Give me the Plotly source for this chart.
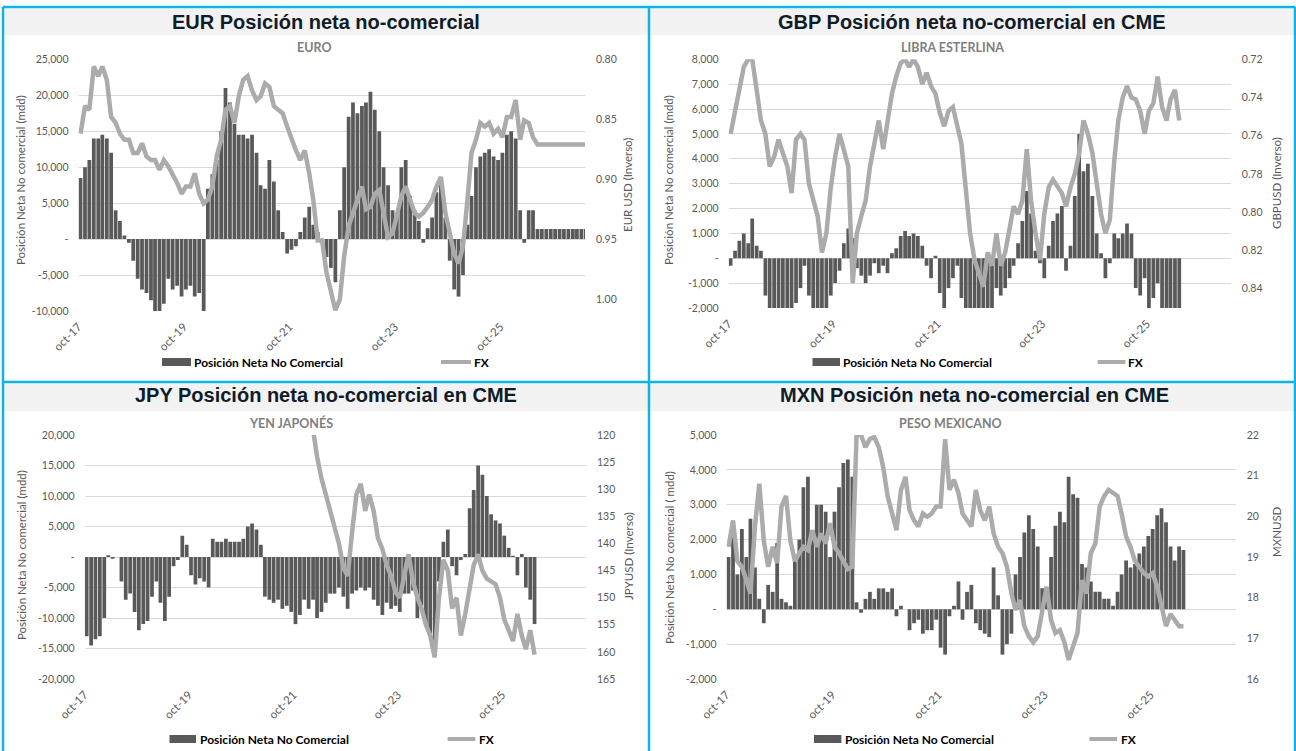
import plotly.graph_objects as go

W, H = 1296, 751

# ---------------- DATA (monthly, from oct-2017) ----------------
EUR_POS = [8500, 10000, 11000, 14000, 14000, 14500, 14000, 12000, 4000, 2500,
           500, -500, -3000, -5500, -7000, -7500, -8500, -10000, -10500, -9000,
           -5500, -7000, -6500, -8000, -7000, -6500, -8000, -7500, -10500, 7000,
           9000, 11000, 15000, 21000, 19000, 16000, 14500, 14500, 14000, 14500,
           12000, 7500, 7000, 11000, 8000, 4000, 1000, -2000, -1500, -1000,
           1000, 3000, 4500, 2000, 1000, -500, -2500, -4000, -6000, 4000,
           10000, 17000, 19000, 17500, 18500, 19000, 20500, 18000, 15000, 10000,
           7500, 4000, 3500, 10000, 11000, 6000, 4000, 2500, -500, 1500,
           3000, 6500, 8000, 3000, -3000, -7000, -8000, -5000, 2000, 6000,
           10000, 11500, 12000, 12500, 11500, 11000, 12000, 14500, 15000, 14000,
           4000, -500, 4000, 4000,
           1400, 1400, 1400, 1400, 1400, 1400, 1400, 1400, 1400, 1400, 1400, 1400]
EUR_FX = [0.862, 0.839, 0.842, 0.806, 0.814, 0.806, 0.817, 0.848, 0.853, 0.862,
          0.867, 0.867, 0.878, 0.878, 0.870, 0.881, 0.884, 0.884, 0.892, 0.884,
          0.889, 0.895, 0.903, 0.912, 0.906, 0.906, 0.895, 0.912, 0.920, 0.917,
          0.906, 0.881, 0.867, 0.842, 0.839, 0.853, 0.831, 0.817, 0.814, 0.826,
          0.834, 0.831, 0.820, 0.823, 0.839, 0.842, 0.845, 0.856, 0.867, 0.876,
          0.884, 0.876, 0.895, 0.917, 0.951, 0.951, 0.978, 0.992, 1.009, 1.000,
          0.964, 0.939, 0.928, 0.917, 0.906, 0.925, 0.923, 0.912, 0.909, 0.928,
          0.948, 0.945, 0.928, 0.914, 0.906, 0.917, 0.928, 0.931, 0.928, 0.923,
          0.917, 0.906, 0.898, 0.928, 0.945, 0.962, 0.970, 0.956, 0.917, 0.878,
          0.867, 0.853, 0.856, 0.853, 0.862, 0.858, 0.865, 0.848, 0.848, 0.834,
          0.867, 0.851, 0.853, 0.865,
          0.871, 0.871, 0.871, 0.871, 0.871, 0.871, 0.871, 0.871, 0.871, 0.871, 0.871, 0.871]

GBP_POS = [-300, 300, 700, 1000, 600, 1600, 500, 300, -1500, -2500,
           -2200, -2200, -2200, -2200, -2000, -1800, -1200, -300, -1500, -2200,
           -2200, -2200, -2000, -1500, -1000, -500, 600, 1200, 800, -400,
           -700, -1000, -700, -200, -600, -300, -600, 200, 400, 900,
           1100, 900, 1000, 900, 500, -300, -800, 100, -1400, -2100,
           -1200, -800, -300, -1600, -2200, -2200, -2200, -2200, -2200, -2200,
           -2000, -1200, -1500, -1200, -800, -300, 600, 1500, 2700, 1800,
           300, -200, -800, 500, 1500, 1800, 2100, -500, 500, 2500,
           5000, 3500, 3800, 2500, 1000, 200, -800, -200, 1000, 800,
           1000, 1400, 1000, -1200, -1500, -800, -2200, -1600, -1000, -2200,
           -2200, -2200, -2200, -2200]
GBP_FX = [0.759, 0.747, 0.734, 0.724, 0.720, 0.720, 0.736, 0.752, 0.759, 0.776,
          0.771, 0.762, 0.769, 0.776, 0.790, 0.762, 0.759, 0.762, 0.785, 0.794,
          0.802, 0.821, 0.811, 0.787, 0.771, 0.759, 0.767, 0.776, 0.837, 0.811,
          0.802, 0.794, 0.776, 0.764, 0.752, 0.767, 0.754, 0.738, 0.729, 0.722,
          0.720, 0.724, 0.720, 0.724, 0.733, 0.727, 0.734, 0.738, 0.748, 0.755,
          0.747, 0.745, 0.755, 0.764, 0.788, 0.811, 0.825, 0.832, 0.839, 0.821,
          0.828, 0.811, 0.828, 0.821, 0.808, 0.797, 0.801, 0.794, 0.767, 0.794,
          0.811, 0.825, 0.801, 0.787, 0.783, 0.787, 0.790, 0.797, 0.787, 0.780,
          0.769, 0.752, 0.759, 0.769, 0.787, 0.801, 0.811, 0.804, 0.773, 0.752,
          0.740, 0.734, 0.740, 0.741, 0.747, 0.759, 0.747, 0.743, 0.729, 0.745,
          0.752, 0.741, 0.736, 0.752]

JPY_POS = [-13000, -14500, -13500, -13000, -10000, 300, -300, 0, -4000, -7000,
           -6000, -9000, -12000, -11000, -10500, -6500, -4000, -7500, -10500, -6500,
           -1500, -500, 3500, 2000, -3000, -4500, -3500, -4000, -5000, 3000,
           2500, 2500, 3000, 2500, 2500, 2500, 3000, 5000, 5500, 4500,
           2000, -6500, -7000, -7500, -7000, -8500, -8000, -9000, -11000, -9500,
           -7000, -8500, -7000, -10000, -9000, -7500, -6000, -6000, -5000, -6500,
           -8500, -6000, -5500, -5000, -5500, -5000, -7000, -8000, -9500, -7500,
           -8500, -8000, -9000, -6000, -6000, -5500, -10000, -8000, -11000, -12500,
           -14000, -4000, 2500, 4500, -1500, -3000, -500, 500, 8000, 11000,
           15000, 13500, 10000, 7000, 6000, 5500, 3500, 1500, 200, -3000,
           500, -5000, -7000, -11000]
JPY_FX = [None, None, None, None, None, None, None, None, None, None,
          None, None, None, None, None, None, None, None, None, None,
          None, None, None, None, None, None, None, None, None, None,
          None, None, None, None, None, None, None, None, None, None,
          None, None, None, None, None, None, None, None, None, None,
          None, None,
          119.0, 124.0, 128.0, 131.0, 134.5, 137.0, 140.0, 144.5, 146.0, 138.0,
          131.0, 129.0, 134.0, 131.0, 134.0, 139.0, 141.0, 144.0, 146.0, 149.0,
          150.0, 146.0, 142.0, 147.0, 150.0, 152.0, 155.0, 157.0, 161.0, 150.0,
          143.0, 145.0, 152.0, 150.0, 157.0, 153.0, 148.0, 144.0, 142.0, 145.0,
          146.5, 147.0, 147.5, 150.0, 154.0, 156.0, 158.0, 153.0, 157.0, 159.5,
          156.0, 160.5]

MXN_POS = [1500, 2200, 1000, 2300, 1500, 2600, 1200, 300, -400, 700,
           500, 1900, 300, 200, 100, 1500, 2000, 3500, 3800, 2000,
           3000, 3000, 2800, 1500, 2800, 3500, 4200, 4300, 3800, 200,
           -100, 300, 500, 300, 600, 600, 500, 600, -200, 100,
           0, -600, -400, -300, -700, -600, -600, -300, -1100, -1300,
           -200, 100, 800, -300, 500, 700, -400, -600, -700, -800,
           1200, 400, -1300, -1000, -700, 1000, 1500, 2200, 2700, 2300,
           1800, 600, 300, 1500, 2400, 2800, 2500, 3800, 3300, 3200,
           1300, 1200, 800, 500, 500, 300, 300, 100, 500, 1000,
           1400, 1200, 1300, 1600, 1800, 2100, 2300, 2700, 2900, 2500,
           1800, 1400, 1800, 1700]
MXN_FX = [19.25, 19.9, 18.9, 18.76, 18.43, 18.1, 19.75, 20.8, 19.4, 18.76,
          19.25, 18.85, 20.24, 20.5, 19.4, 18.9, 19.1, 19.25, 19.17, 19.66,
          19.25, 19.58, 19.33, 19.83, 19.25, 19.1, 18.9, 18.7, 18.76, 22.0,
          22.0, 21.7, 21.9, 21.95, 21.7, 21.2, 20.5, 20.07, 19.66, 20.65,
          20.97, 20.15, 19.9, 19.75, 20.07, 19.99, 20.07, 20.24, 20.24, 21.9,
          20.65, 20.9, 20.57, 20.07, 19.9, 19.75, 20.65, 20.15, 19.9, 20.24,
          19.58, 19.25, 19.1, 18.76, 18.1, 17.7, 17.94, 17.3, 17.05, 16.9,
          17.05, 17.6, 18.27, 17.45, 17.13, 17.2, 16.9, 16.47, 16.8, 17.13,
          18.43, 18.1, 19.1, 19.33, 20.24, 20.5, 20.65, 20.57, 20.5, 20.07,
          19.5, 19.25, 18.9, 18.76, 18.6, 18.52, 18.6, 18.27, 17.78, 17.3,
          17.6, 17.45, 17.3, 17.3]

X_TICKS = ["2017-10-01", "2019-10-01", "2021-10-01", "2023-10-01", "2025-10-01"]
X_TICK_LABELS = ["oct-17", "oct-19", "oct-21", "oct-23", "oct-25"]

EUR_LT = [25000, 20000, 15000, 10000, 5000, 0, -5000, -10000]
EUR_LT_TXT = ["25,000", "20,000", "15,000", "10,000", "5,000", "-", "-5,000", "-10,000"]
EUR_RT = [0.80, 0.85, 0.90, 0.95, 1.00]
EUR_RT_TXT = ["0.80", "0.85", "0.90", "0.95", "1.00"]

GBP_LT = [8000, 7000, 6000, 5000, 4000, 3000, 2000, 1000, 0, -1000, -2000]
GBP_LT_TXT = ["8,000", "7,000", "6,000", "5,000", "4,000", "3,000", "2,000", "1,000", "-", "-1,000", "-2,000"]
GBP_RT = [0.72, 0.74, 0.76, 0.78, 0.80, 0.82, 0.84]
GBP_RT_TXT = ["0.72", "0.74", "0.76", "0.78", "0.80", "0.82", "0.84"]

JPY_LT = [20000, 15000, 10000, 5000, 0, -5000, -10000, -15000, -20000]
JPY_LT_TXT = ["20,000", "15,000", "10,000", "5,000", "-", "-5,000", "-10,000", "-15,000", "-20,000"]
JPY_RT = [120, 125, 130, 135, 140, 145, 150, 155, 160, 165]
JPY_RT_TXT = ["120", "125", "130", "135", "140", "145", "150", "155", "160", "165"]

MXN_LT = [5000, 4000, 3000, 2000, 1000, 0, -1000, -2000]
MXN_LT_TXT = ["5,000", "4,000", "3,000", "2,000", "1,000", "-", "-1,000", "-2,000"]
MXN_RT = [22, 21, 20, 19, 18, 17, 16]
MXN_RT_TXT = ["22", "21", "20", "19", "18", "17", "16"]


def month_dates(n):
    out = []
    y, m = 2017, 10
    for _ in range(n):
        out.append(f"{y}-{m:02d}-15")
        m += 1
        if m > 12:
            m = 1
            y += 1
    return out


# ---------------- STYLE ----------------
FONT = "Lato, 'Open Sans', sans-serif"
TITLE_FONT = "'Liberation Sans', Arial, sans-serif"
BAR_C = "#595959"
LINE_C = "#ABABAB"
GRID_C = "#D9D9D9"
TXT_C = "#595959"
SUB_C = "#7F7F7F"
BORDER_C = "#0DB4E4"
X_RANGE = ["2017-10-01", "2027-05-10"]
BAR_W = 26 * 24 * 3600 * 1000


def fx(x):
    return x / W


def fy(y):
    return 1 - y / H


panels = [
    dict(title="EUR Posición neta no-comercial", sub="EURO", pos=EUR_POS, fxv=EUR_FX,
         box=(78.5, 585, 59.3, 311), lt=EUR_LT, ltt=EUR_LT_TXT, lr=[-10000, 25000],
         rt=EUR_RT, rtt=EUR_RT_TXT, rr=[1.0097, 0.80],
         ltitle="Posición Neta No comercial (mdd)", rtitle="EUR USD (Inverso)",
         tcx=326, tcy=22, scx=314, scy=48, ltx=21, lty=180, rtx=628, rty=185,
         bar=(162, 191), bt=192, fxl=(441, 471), ft=472, legy=362, tb=(8.5, 35), px0=4, px1=648),
    dict(title="GBP Posición neta no-comercial en CME", sub="LIBRA ESTERLINA", pos=GBP_POS, fxv=GBP_FX,
         box=(728.6, 1230.8, 59.3, 308), lt=GBP_LT, ltt=GBP_LT_TXT, lr=[-2000, 8000],
         rt=GBP_RT, rtt=GBP_RT_TXT, rr=[0.8501, 0.72],
         ltitle="Posición Neta No comercial (mdd)", rtitle="GBPUSD (Inverso)",
         tcx=972, tcy=22, scx=952, scy=48, ltx=669, lty=180, rtx=1276, rty=183,
         bar=(812.5, 840), bt=841, fxl=(1097.7, 1125.4), ft=1126, legy=362, tb=(8.5, 35), px0=650, px1=1294),
    dict(title="JPY Posición neta no-comercial en CME", sub="YEN JAPONÉS", pos=JPY_POS, fxv=JPY_FX,
         box=(84.7, 586, 435, 679), lt=JPY_LT, ltt=JPY_LT_TXT, lr=[-20000, 20000],
         rt=JPY_RT, rtt=JPY_RT_TXT, rr=[165, 120],
         ltitle="Posición Neta No comercial (mdd)", rtitle="JPYUSD (Inverso)",
         tcx=326, tcy=395, scx=291, scy=423, ltx=21, lty=555, rtx=628, rty=556,
         bar=(169.5, 196), bt=198, fxl=(447.6, 475.3), ft=477, legy=739, tb=(383.5, 411), px0=4, px1=648),
    dict(title="MXN Posición neta no-comercial en CME", sub="PESO MEXICANO", pos=MXN_POS, fxv=MXN_FX,
         box=(726.5, 1235.7, 435, 679), lt=MXN_LT, ltt=MXN_LT_TXT, lr=[-2000, 5000],
         rt=MXN_RT, rtt=MXN_RT_TXT, rr=[16, 22],
         ltitle="Posición Neta No comercial ( mdd)", rtitle="MXNUSD",
         tcx=974, tcy=395, scx=950, scy=423, ltx=669, lty=558, rtx=1276, rty=532,
         bar=(814, 841.4), bt=843, fxl=(1089.4, 1117), ft=1119, legy=739, tb=(383.5, 411), px0=650, px1=1294),
]

fig = go.Figure()
layout = {}
shapes = []
annotations = []

for i, p in enumerate(panels):
    xn = "" if i == 0 else str(i + 1)
    yl = 2 * i + 1
    yr = 2 * i + 2
    yln = "" if yl == 1 else str(yl)
    x0, x1, y0, y1 = p["box"]
    dates = month_dates(len(p["pos"]))
    fdates = month_dates(len(p["fxv"]))

    fig.add_trace(go.Bar(x=dates, y=p["pos"], xaxis="x" + xn, yaxis="y" + yln,
                         marker=dict(color=BAR_C, line=dict(width=0)), width=BAR_W,
                         showlegend=False, name="Posición Neta No Comercial"))
    fig.add_trace(go.Scatter(x=fdates, y=p["fxv"], xaxis="x" + xn, yaxis="y" + str(yr),
                             mode="lines", line=dict(color=LINE_C, width=4.5),
                             showlegend=False, name="FX", connectgaps=False))

    layout["xaxis" + xn] = dict(
        domain=[fx(x0), fx(x1)], anchor="y" + yln, type="date", range=X_RANGE,
        tickvals=X_TICKS, ticktext=X_TICK_LABELS, tickangle=-45, automargin=False,
        tickfont=dict(family=FONT, size=11.5, color=TXT_C),
        showgrid=False, zeroline=False, showline=False, ticks="",
        ticklabelstandoff=6, fixedrange=True)
    layout["yaxis" + yln] = dict(
        domain=[fy(y1), fy(y0)], anchor="x" + xn, range=p["lr"], automargin=False,
        tickvals=p["lt"], ticktext=p["ltt"],
        tickfont=dict(family=FONT, size=10.5, color=TXT_C),
        showgrid=True, gridcolor=GRID_C, gridwidth=1, zeroline=False,
        showline=False, ticks="", ticklabelstandoff=9)
    layout["yaxis" + str(yr)] = dict(
        domain=[fy(y1), fy(y0)], anchor="x" + xn, overlaying="y" + yln, side="right",
        range=p["rr"], tickvals=p["rt"], ticktext=p["rtt"], automargin=False,
        tickfont=dict(family=FONT, size=10.5, color=TXT_C),
        showgrid=False, zeroline=False, showline=False, ticks="", ticklabelstandoff=10)

    # title bar
    shapes.append(dict(type="rect", xref="paper", yref="paper", layer="below",
                       x0=fx(p["px0"]), x1=fx(p["px1"]), y0=fy(p["tb"][1]), y1=fy(p["tb"][0]),
                       fillcolor="#F2F2F2", line=dict(width=0)))
    annotations.append(dict(text="<b>" + p["title"] + "</b>", x=fx(p["tcx"]), y=fy(p["tcy"]),
                            xref="paper", yref="paper", showarrow=False,
                            xanchor="center", yanchor="middle",
                            font=dict(family=TITLE_FONT, size=20, color="#101C28")))
    annotations.append(dict(text="<b>" + p["sub"] + "</b>", x=fx(p["scx"]), y=fy(p["scy"]),
                            xref="paper", yref="paper", showarrow=False,
                            xanchor="center", yanchor="middle",
                            font=dict(family=FONT, size=12.5, color=SUB_C)))
    annotations.append(dict(text=p["ltitle"], x=fx(p["ltx"]), y=fy(p["lty"]),
                            xref="paper", yref="paper", showarrow=False, textangle=-90,
                            xanchor="center", yanchor="middle",
                            font=dict(family=FONT, size=11.5, color=TXT_C)))
    annotations.append(dict(text=p["rtitle"], x=fx(p["rtx"]), y=fy(p["rty"]),
                            xref="paper", yref="paper", showarrow=False, textangle=-90,
                            xanchor="center", yanchor="middle",
                            font=dict(family=FONT, size=11.5, color=TXT_C)))
    # manual legend
    ly = p["legy"]
    shapes.append(dict(type="rect", xref="paper", yref="paper",
                       x0=fx(p["bar"][0]), x1=fx(p["bar"][1]), y0=fy(ly + 4), y1=fy(ly - 4),
                       fillcolor=BAR_C, line=dict(width=0)))
    annotations.append(dict(text="<b>Posición Neta No Comercial</b>", x=fx(p["bt"]), y=fy(ly),
                            xref="paper", yref="paper", showarrow=False,
                            xanchor="left", yanchor="middle",
                            font=dict(family=FONT, size=12, color="#000000")))
    shapes.append(dict(type="line", xref="paper", yref="paper",
                       x0=fx(p["fxl"][0]), x1=fx(p["fxl"][1]), y0=fy(ly), y1=fy(ly),
                       line=dict(color=LINE_C, width=4)))
    annotations.append(dict(text="<b>FX</b>", x=fx(p["ft"]), y=fy(ly),
                            xref="paper", yref="paper", showarrow=False,
                            xanchor="left", yanchor="middle",
                            font=dict(family=FONT, size=12, color="#000000")))

# cyan borders
for (a, b, c, d) in [(3, 7, 1295, 7), (3, 7, 3, 751), (1295, 7, 1295, 751),
                     (649, 7, 649, 751), (3, 382, 1295, 382)]:
    shapes.append(dict(type="line", xref="paper", yref="paper",
                       x0=fx(a), y0=fy(b), x1=fx(c), y1=fy(d),
                       line=dict(color=BORDER_C, width=2.5)))

fig.update_layout(
    width=W, height=H, margin=dict(l=0, r=0, t=0, b=0, autoexpand=False),
    paper_bgcolor="white", plot_bgcolor="rgba(0,0,0,0)",
    bargap=0.1, barmode="overlay", showlegend=False, hovermode=False,
    shapes=shapes, annotations=annotations, **layout)

fig.write_html("out.html", config={"displayModeBar": False, "staticPlot": True},
               post_script="document.body.style.margin='0';document.body.style.overflow='hidden';")
